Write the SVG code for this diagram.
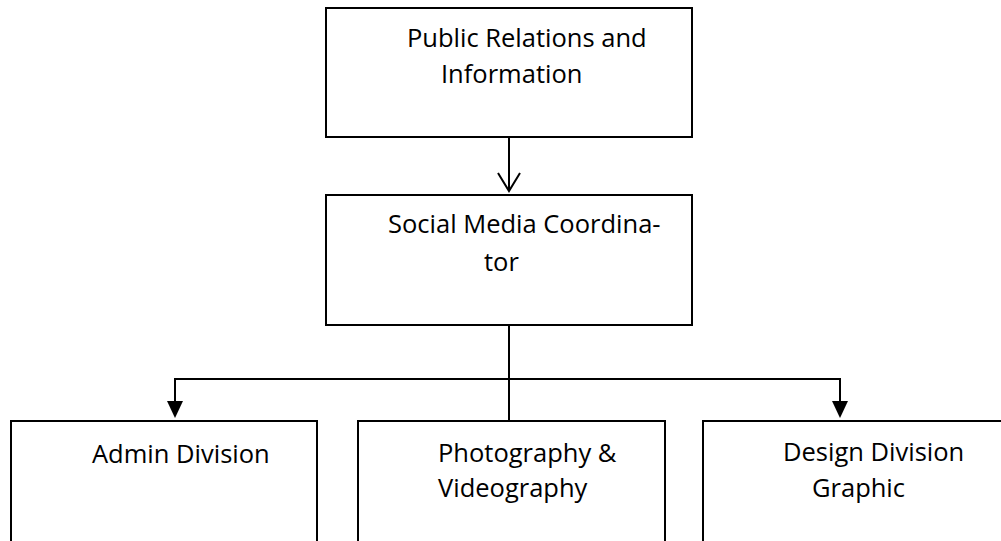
<svg xmlns="http://www.w3.org/2000/svg" width="1001" height="541" viewBox="0 0 1001 541">
<style>
.box{fill:#fff;stroke:#000;stroke-width:2}
.t{font-family:"Open Sans","Noto Sans",sans-serif;font-size:25.5px;fill:#000}
.c{fill:none;stroke:#000;stroke-width:2}
</style>
<rect width="1001" height="541" fill="#fff"/>
<g id="connectors">
<line class="c" x1="509" y1="137" x2="509" y2="190"/>
<path d="M498 173 L509 191 L520 173" fill="none" stroke="#000" stroke-width="2"/>
<line class="c" x1="509" y1="325" x2="509" y2="421"/>
<polyline class="c" points="175,402 175,379 840,379 840,402"/>
<polygon points="167,401 183,401 175,418" fill="#000"/>
<polygon points="832,401 848,401 840,418" fill="#000"/>
</g>
<g id="pr">
<rect class="box" x="326" y="8" width="366" height="129"/>
<text class="t" x="407" y="47">Public Relations and</text>
<text class="t" x="441" y="83">Information</text>
</g>
<g id="smc">
<rect class="box" x="326" y="195" width="366" height="130"/>
<text class="t" x="388" y="233">Social Media Coordina-</text>
<text class="t" x="484" y="271">tor</text>
</g>
<g id="admin">
<rect class="box" x="11" y="421" width="306" height="140"/>
<text class="t" x="92" y="463">Admin Division</text>
</g>
<g id="photo">
<rect class="box" x="358" y="421" width="307" height="140"/>
<text class="t" x="438" y="462">Photography &amp;</text>
<text class="t" x="438" y="497">Videography</text>
</g>
<g id="design">
<rect class="box" x="703" y="421" width="320" height="140"/>
<text class="t" x="783" y="461">Design Division</text>
<text class="t" x="812" y="497">Graphic</text>
</g>
</svg>
